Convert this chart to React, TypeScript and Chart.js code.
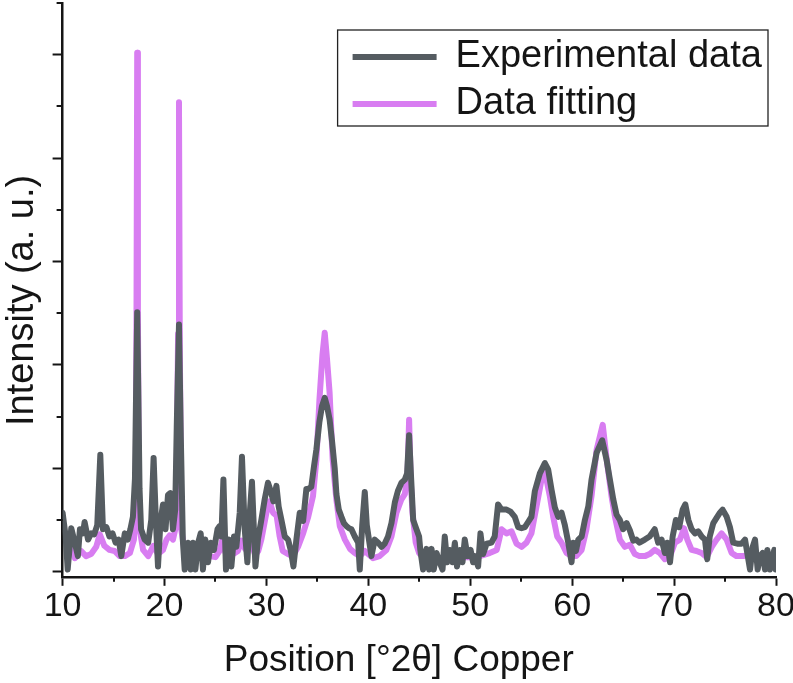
import React, { useEffect, useRef } from "react";
import { Chart, registerables } from "chart.js";

Chart.register(...registerables);

// ---- data ----
const expX = [
  10.0, 10.3, 10.5, 10.85, 11.2, 11.5, 11.7, 12.0, 12.16, 12.5, 12.8, 13.1, 13.4, 13.7, 13.96, 14.3, 14.6, 14.9, 15.2, 15.5,
  15.76, 16.1, 16.4, 16.65, 16.9, 17.1, 17.22, 17.32, 17.42, 17.55, 17.7, 18.05, 18.4, 18.7, 18.93, 19.15, 19.36, 19.6, 19.85, 20.1,
  20.34, 20.57, 20.83, 21.05, 21.2, 21.42, 21.6, 21.8, 21.98, 22.3, 22.57, 22.8, 23.03, 23.3, 23.55, 23.77, 24.0, 24.27, 24.53, 24.85,
  25.2, 25.4, 25.58, 25.78, 26.03, 26.3, 26.56, 26.82, 27.05, 27.38, 27.6, 27.87, 28.13, 28.39, 28.58, 28.92, 29.17, 29.5, 29.83, 30.15,
  30.42, 30.68, 30.98, 31.2, 31.47, 31.8, 32.12, 32.38, 32.65, 32.94, 33.27, 33.6, 33.92, 34.1, 34.4, 34.67, 34.9, 35.2, 35.45, 35.72,
  35.95, 36.2, 36.45, 36.7, 36.87, 37.1, 37.36, 37.6, 37.85, 38.1, 38.34, 38.67, 39.0, 39.16, 39.4, 39.65, 39.85, 40.0, 40.3, 40.63,
  40.96, 41.3, 41.6, 41.93, 42.27, 42.6, 42.9, 43.25, 43.58, 43.8, 44.0, 44.2, 44.4, 44.72, 44.98, 45.1, 45.37, 45.7, 45.96, 46.2,
  46.42, 46.69, 47.0, 47.28, 47.5, 47.73, 47.99, 48.26, 48.49, 48.7, 48.97, 49.24, 49.46, 49.73, 50.03, 50.28, 50.45, 50.77, 51.0, 51.26,
  51.6, 52.08, 52.4, 52.73, 53.07, 53.56, 53.95, 54.37, 54.7, 55.03, 55.36, 55.68, 56.0, 56.34, 56.83, 57.32, 57.64, 57.98, 58.3, 58.63,
  58.96, 59.28, 59.6, 59.94, 60.1, 60.37, 60.6, 60.93, 61.25, 61.58, 61.9, 62.4, 62.95, 63.38, 63.7, 64.03, 64.36, 64.68, 65.0, 65.34,
  65.66, 65.99, 66.3, 66.6, 67.13, 67.6, 68.1, 68.44, 68.77, 69.1, 69.33, 69.6, 69.86, 70.18, 70.5, 70.84, 71.1, 71.4, 71.72, 72.05,
  72.37, 72.7, 73.03, 73.25, 73.5, 73.85, 74.17, 74.5, 74.76, 75.16, 75.48, 75.8, 76.2, 76.63, 76.96, 77.18, 77.45, 77.71, 77.94, 78.2,
  78.43, 78.69, 78.92, 79.15, 79.4, 79.67, 79.83, 79.97,
];
const expY = [
  0.57, 0.34, 0.02, 0.42, 0.28, 0.15, 0.41, 0.37, 0.48, 0.31, 0.37, 0.36, 0.45, 1.13, 0.41, 0.43, 0.34, 0.37, 0.28, 0.31,
  0.15, 0.37, 0.31, 0.41, 0.53, 0.9, 1.8, 2.51, 1.8, 0.8, 0.41, 0.31, 0.28, 0.5, 1.1, 0.5, 0.05, 0.48, 0.65, 0.41,
  0.74, 0.76, 0.41, 0.6, 1.4, 2.39, 1.3, 0.3, 0.02, 0.28, 0.02, 0.28, 0.02, 0.28, 0.37, 0.02, 0.31, 0.09, 0.28, 0.21,
  0.41, 0.44, 0.34, 0.89, 0.02, 0.31, 0.05, 0.34, 0.24, 0.57, 1.11, 0.41, 0.09, 0.6, 0.87, 0.05, 0.31, 0.5, 0.7, 0.86,
  0.78, 0.68, 0.83, 0.63, 0.5, 0.34, 0.31, 0.21, 0.05, 0.31, 0.57, 0.49, 0.8, 0.8, 0.82, 1.02, 1.18, 1.45, 1.6, 1.68,
  1.6, 1.47, 1.25, 1.0, 0.75, 0.6, 0.53, 0.47, 0.44, 0.42, 0.41, 0.34, 0.28, 0.02, 0.45, 0.77, 0.45, 0.35, 0.15, 0.31,
  0.28, 0.24, 0.27, 0.34, 0.47, 0.67, 0.78, 0.86, 0.89, 0.95, 1.32, 0.9, 0.5, 0.41, 0.34, 0.21, 0.02, 0.22, 0.02, 0.22,
  0.02, 0.18, 0.09, 0.02, 0.34, 0.09, 0.21, 0.09, 0.28, 0.05, 0.21, 0.09, 0.31, 0.15, 0.21, 0.09, 0.15, 0.05, 0.37, 0.17,
  0.27, 0.28, 0.34, 0.65, 0.6, 0.6, 0.58, 0.53, 0.43, 0.42, 0.43, 0.48, 0.53, 0.78, 0.95, 1.05, 0.99, 0.79, 0.62, 0.53,
  0.57, 0.45, 0.29, 0.09, 0.28, 0.2, 0.31, 0.34, 0.5, 0.63, 0.89, 1.15, 1.27, 1.08, 0.89, 0.7, 0.55, 0.5, 0.41, 0.47,
  0.4, 0.3, 0.31, 0.28, 0.31, 0.34, 0.41, 0.28, 0.31, 0.18, 0.28, 0.09, 0.34, 0.5, 0.43, 0.6, 0.65, 0.5, 0.41, 0.37,
  0.39, 0.34, 0.31, 0.12, 0.34, 0.47, 0.52, 0.57, 0.6, 0.53, 0.43, 0.28, 0.27, 0.27, 0.31, 0.18, 0.02, 0.24, 0.31, 0.02,
  0.15, 0.18, 0.02, 0.21, 0.02, 0.15, 0.21, 0.02,
];

const fitX = [
  10.5, 10.85, 11.2, 11.5, 11.8, 12.3, 12.8, 13.3, 13.65, 14.1, 14.6, 15.1, 15.6, 16.1, 16.6, 17.0, 17.17, 17.25, 17.32, 17.39,
  17.5, 17.9, 18.4, 18.9, 19.36, 19.85, 20.2, 20.5, 20.83, 21.15, 21.33, 21.42, 21.5, 21.65, 21.9, 22.3, 23.0, 23.7, 24.4, 25.0,
  25.4, 25.7, 26.0, 26.6, 27.2, 27.55, 27.9, 28.5, 28.9, 29.2, 29.5, 30.0, 30.3, 30.65, 31.0, 31.3, 31.6, 32.1, 32.6, 33.1,
  33.6, 34.1, 34.57, 34.9, 35.2, 35.5, 35.72, 35.95, 36.2, 36.5, 36.86, 37.2, 37.7, 38.2, 38.67, 39.16, 39.65, 40.46, 41.1, 41.77,
  42.27, 42.76, 43.25, 43.58, 43.85, 44.0, 44.15, 44.33, 44.65, 44.98, 45.5, 46.5, 47.5, 48.5, 49.5, 50.3, 50.94, 51.9, 52.6, 53.07,
  53.56, 54.05, 54.54, 55.03, 55.52, 56.0, 56.5, 56.99, 57.32, 57.81, 58.14, 58.53, 58.96, 59.45, 59.94, 60.4, 60.93, 61.4, 61.9, 62.4,
  63.0, 63.43, 63.86, 64.2, 64.68, 65.17, 65.66, 66.15, 66.6, 67.13, 67.6, 68.1, 68.6, 69.1, 69.6, 70.08, 70.57, 70.97, 71.3, 71.72,
  72.2, 72.7, 73.2, 73.7, 74.17, 74.66, 75.16, 75.65, 76.13, 76.8, 77.45, 78.0,
];
const fitY = [
  0.3, 0.24, 0.13, 0.17, 0.2, 0.15, 0.17, 0.24, 0.36, 0.25, 0.21, 0.2, 0.15, 0.15, 0.18, 0.31, 0.6, 2.5, 5.02, 2.5,
  0.45, 0.21, 0.15, 0.25, 0.17, 0.21, 0.31, 0.35, 0.31, 0.45, 2.3, 4.54, 2.2, 0.4, 0.25, 0.18, 0.17, 0.16, 0.15, 0.14,
  0.2, 0.32, 0.18, 0.16, 0.2, 0.3, 0.22, 0.28, 0.16, 0.2, 0.31, 0.57, 0.68, 0.57, 0.54, 0.34, 0.2, 0.17, 0.15, 0.24,
  0.37, 0.53, 0.73, 1.08, 1.66, 2.1, 2.31, 2.05, 1.73, 1.08, 0.7, 0.44, 0.31, 0.22, 0.18, 0.15, 0.2, 0.13, 0.15, 0.21,
  0.34, 0.57, 0.7, 0.75, 0.95, 1.47, 0.9, 0.57, 0.28, 0.18, 0.12, 0.12, 0.13, 0.13, 0.14, 0.14, 0.15, 0.18, 0.21, 0.41,
  0.37, 0.39, 0.27, 0.24, 0.28, 0.37, 0.63, 0.89, 0.97, 0.73, 0.53, 0.34, 0.28, 0.18, 0.15, 0.15, 0.21, 0.41, 0.73, 1.18,
  1.42, 1.05, 0.73, 0.53, 0.31, 0.24, 0.26, 0.17, 0.15, 0.15, 0.17, 0.21, 0.18, 0.12, 0.15, 0.28, 0.31, 0.42, 0.31, 0.21,
  0.2, 0.18, 0.14, 0.24, 0.31, 0.37, 0.31, 0.18, 0.15, 0.15, 0.17, 0.15,
];

const xMajorTicks = [10, 20, 30, 40, 50, 60, 70, 80];
const xMinorTicks = [15, 25, 35, 45, 55, 65, 75];
const yMajorTicks = [0, 1, 2, 3, 4, 5];
const yMinorTicks = [0.5, 1.5, 2.5, 3.5, 4.5, 5.5];

const seriesLabels = ["Experimental data", "Data fitting"];
const xTitle = "Position [°2θ] Copper    ";
const yTitle = "Intensity (a. u.)  ";

const GRAY = "#555c61";
const PINK = "#d87df1";
const INK = "#151515";
const FONT = "'Liberation Sans', Arial, sans-serif";

const decorPlugin = {
  id: "decor",
  beforeDraw(chart: any) {
    const lg = chart.legend;
    const ca = chart.chartArea;
    if (lg && ca) {
      lg.left = ca.left + 281;
      lg.top = ca.top + 26;
      lg.right = ca.right;
      lg.bottom = ca.bottom;
    }
  },
  afterDraw(chart: any) {
    const ctx = chart.ctx;
    const xs = chart.scales.x;
    const ys = chart.scales.y;
    const ca = chart.chartArea;
    ctx.save();
    ctx.strokeStyle = INK;
    ctx.lineWidth = 2;
    xMinorTicks.forEach((v) => {
      const px = Math.round(xs.getPixelForValue(v));
      ctx.beginPath();
      ctx.moveTo(px, ca.bottom);
      ctx.lineTo(px, ca.bottom + 5);
      ctx.stroke();
    });
    yMinorTicks.forEach((v) => {
      const py = Math.round(ys.getPixelForValue(v));
      ctx.beginPath();
      ctx.moveTo(ca.left, py);
      ctx.lineTo(ca.left - 6, py);
      ctx.stroke();
    });
    // legend frame
    const lg = chart.legend;
    if (lg) {
      ctx.lineWidth = 1.3;
      ctx.strokeStyle = "#222";
      ctx.strokeRect(lg.left - 6, lg.top + 1, ca.right - 8 - (lg.left - 6), 96);
    }
    ctx.restore();
  },
};

export default function App() {
  const ref = useRef<HTMLCanvasElement | null>(null);

  useEffect(() => {
    if (!ref.current) return;
    const expData = expX.map((x, i) => ({ x, y: expY[i] }));
    const fitData = fitX.map((x, i) => ({ x, y: fitY[i] }));
    const chart = new Chart(ref.current, {
      type: "line",
      data: {
        datasets: [
          {
            label: seriesLabels[0],
            data: expData,
            borderColor: GRAY,
            backgroundColor: GRAY,
            borderWidth: 6,
            pointRadius: 0,
            tension: 0,
            borderJoinStyle: "round",
            borderCapStyle: "round",
          },
          {
            label: seriesLabels[1],
            data: fitData,
            borderColor: PINK,
            backgroundColor: PINK,
            borderWidth: 6,
            pointRadius: 0,
            tension: 0,
            borderJoinStyle: "round",
            borderCapStyle: "round",
          },
        ],
      },
      options: {
        responsive: false,
        animation: false,
        events: [],
        layout: { padding: { top: 3, right: 17, bottom: 0, left: 0 } },
        plugins: {
          tooltip: { enabled: false },
          legend: {
            display: true,
            position: "chartArea",
            align: "start",
            labels: {
              usePointStyle: true,
              pointStyle: "line",
              pointStyleWidth: 84,
              padding: 9,
              color: INK,
              font: { family: FONT, size: 38 },
            },
          },
        },
        scales: {
          x: {
            type: "linear",
            min: 10,
            max: 80,
            afterBuildTicks: (scale: any) => {
              scale.ticks = xMajorTicks.map((v) => ({ value: v }));
            },
            afterFit: (scale: any) => {
              scale.paddingRight = 14;
            },
            grid: {
              display: true,
              drawOnChartArea: false,
              drawTicks: true,
              tickLength: 9,
              tickWidth: 2,
              tickColor: INK,
            },
            border: { display: true, color: INK, width: 2.5 },
            ticks: {
              color: INK,
              padding: 0,
              maxRotation: 0,
              font: { family: FONT, size: 34 },
            },
            title: {
              display: true,
              text: xTitle,
              color: INK,
              font: { family: FONT, size: 37 },
              padding: { top: 12, bottom: 0 },
            },
          },
          y: {
            type: "linear",
            min: -0.05,
            max: 5.5,
            afterBuildTicks: (scale: any) => {
              scale.ticks = yMajorTicks.map((v) => ({ value: v }));
            },
            grid: {
              display: true,
              drawOnChartArea: false,
              drawTicks: true,
              tickLength: 10,
              tickWidth: 2,
              tickColor: INK,
            },
            border: { display: true, color: INK, width: 2.5 },
            ticks: { display: false },
            title: {
              display: true,
              text: yTitle,
              color: INK,
              font: { family: FONT, size: 38 },
              padding: { top: 0, bottom: 7 },
            },
          },
        },
      },
      plugins: [decorPlugin],
    } as any);
    return () => chart.destroy();
  }, []);

  return (
    <div style={{ position: "fixed", left: 0, top: 0, width: 793, height: 683, background: "#fff" }}>
      <canvas ref={ref} width={793} height={683} style={{ display: "block" }} />
    </div>
  );
}
